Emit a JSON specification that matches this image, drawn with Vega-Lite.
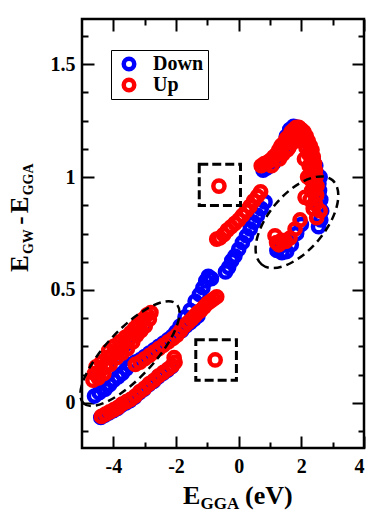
{
  "$schema": "https://vega.github.io/schema/vega-lite/v6.json",
  "width": 282,
  "height": 429,
  "autosize": {"type": "none"},
  "padding": {"left": 82, "top": 19, "right": 22, "bottom": 69},
  "background": "white",
  "config": {
    "view": {"stroke": "black", "strokeWidth": 2.5},
    "axis": {
      "labelFont": "Liberation Serif", "labelFontWeight": "bold", "labelFontSize": 20, "labelColor": "black",
      "tickColor": "black", "tickWidth": 2, "domain": false, "grid": false, "title": null
    }
  },
  "resolve": {"axis": {"x": "independent", "y": "independent"}},
  "layer": [
    {
      "data": {"values": [
        {"x": -4.4, "y": -0.065, "spin": "Down"}, {"x": -4.27, "y": -0.055, "spin": "Down"}, {"x": -4.14, "y": -0.045, "spin": "Down"}, {"x": -4.0, "y": -0.035, "spin": "Down"}, {"x": -3.87, "y": -0.025, "spin": "Down"}, {"x": -3.74, "y": -0.01, "spin": "Down"}, {"x": -3.6, "y": 0.0, "spin": "Down"}, {"x": -3.47, "y": 0.01, "spin": "Down"}, {"x": -3.32, "y": 0.025, "spin": "Down"}, {"x": -3.17, "y": 0.045, "spin": "Down"}, {"x": -3.02, "y": 0.06, "spin": "Down"}, {"x": -2.87, "y": 0.08, "spin": "Down"}, {"x": -2.72, "y": 0.095, "spin": "Down"}, {"x": -2.57, "y": 0.115, "spin": "Down"}, {"x": -2.42, "y": 0.13, "spin": "Down"}, {"x": -2.27, "y": 0.145, "spin": "Down"}, {"x": -2.14, "y": 0.16, "spin": "Down"},
        {"x": -4.6, "y": 0.03, "spin": "Down"}, {"x": -4.45, "y": 0.045, "spin": "Down"}, {"x": -4.26, "y": 0.06, "spin": "Down"}, {"x": -4.12, "y": 0.08, "spin": "Down"}, {"x": -3.99, "y": 0.1, "spin": "Down"}, {"x": -3.85, "y": 0.115, "spin": "Down"}, {"x": -3.72, "y": 0.13, "spin": "Down"}, {"x": -3.59, "y": 0.15, "spin": "Down"}, {"x": -3.46, "y": 0.17, "spin": "Down"}, {"x": -3.3, "y": 0.18, "spin": "Down"}, {"x": -3.15, "y": 0.19, "spin": "Down"}, {"x": -3.0, "y": 0.205, "spin": "Down"}, {"x": -2.85, "y": 0.22, "spin": "Down"}, {"x": -2.7, "y": 0.235, "spin": "Down"}, {"x": -2.55, "y": 0.25, "spin": "Down"}, {"x": -2.4, "y": 0.265, "spin": "Down"}, {"x": -2.25, "y": 0.28, "spin": "Down"}, {"x": -2.12, "y": 0.295, "spin": "Down"},
        {"x": -4.5, "y": 0.12, "spin": "Down"}, {"x": -4.2, "y": 0.17, "spin": "Down"}, {"x": -3.9, "y": 0.22, "spin": "Down"}, {"x": -3.6, "y": 0.26, "spin": "Down"}, {"x": -3.3, "y": 0.3, "spin": "Down"}, {"x": -3.0, "y": 0.34, "spin": "Down"},
        {"x": -1.82, "y": 0.32, "spin": "Down"}, {"x": -1.68, "y": 0.34, "spin": "Down"}, {"x": -1.55, "y": 0.355, "spin": "Down"}, {"x": -1.42, "y": 0.37, "spin": "Down"}, {"x": -1.3, "y": 0.385, "spin": "Down"},
        {"x": -2.0, "y": 0.315, "spin": "Down"}, {"x": -1.87, "y": 0.34, "spin": "Down"}, {"x": -1.71, "y": 0.38, "spin": "Down"}, {"x": -1.55, "y": 0.41, "spin": "Down"}, {"x": -1.39, "y": 0.45, "spin": "Down"}, {"x": -1.25, "y": 0.48, "spin": "Down"}, {"x": -1.14, "y": 0.51, "spin": "Down"}, {"x": -1.05, "y": 0.54, "spin": "Down"}, {"x": -0.97, "y": 0.56, "spin": "Down"}, {"x": -0.87, "y": 0.55, "spin": "Down"}, {"x": -0.42, "y": 0.58, "spin": "Down"}, {"x": -0.32, "y": 0.6, "spin": "Down"}, {"x": -0.22, "y": 0.63, "spin": "Down"}, {"x": -0.12, "y": 0.65, "spin": "Down"}, {"x": 0.0, "y": 0.68, "spin": "Down"}, {"x": 0.12, "y": 0.71, "spin": "Down"}, {"x": 0.25, "y": 0.74, "spin": "Down"}, {"x": 0.37, "y": 0.77, "spin": "Down"}, {"x": 0.48, "y": 0.8, "spin": "Down"}, {"x": 0.6, "y": 0.83, "spin": "Down"}, {"x": 0.72, "y": 0.86, "spin": "Down"}, {"x": 0.84, "y": 0.89, "spin": "Down"},
        {"x": 0.78, "y": 1.03, "spin": "Down"}, {"x": 0.9, "y": 1.04, "spin": "Down"}, {"x": 1.0, "y": 1.05, "spin": "Down"}, {"x": 1.1, "y": 1.06, "spin": "Down"}, {"x": 1.3, "y": 1.1, "spin": "Down"}, {"x": 1.42, "y": 1.13, "spin": "Down"}, {"x": 1.52, "y": 1.18, "spin": "Down"}, {"x": 1.63, "y": 1.21, "spin": "Down"}, {"x": 1.75, "y": 1.225, "spin": "Down"}, {"x": 1.87, "y": 1.22, "spin": "Down"}, {"x": 2.0, "y": 1.2, "spin": "Down"}, {"x": 2.15, "y": 1.16, "spin": "Down"}, {"x": 2.3, "y": 1.12, "spin": "Down"}, {"x": 2.38, "y": 1.08, "spin": "Down"}, {"x": 2.46, "y": 1.05, "spin": "Down"}, {"x": 2.52, "y": 1.01, "spin": "Down"}, {"x": 2.6, "y": 1.0, "spin": "Down"}, {"x": 2.56, "y": 0.97, "spin": "Down"}, {"x": 2.58, "y": 0.94, "spin": "Down"}, {"x": 2.62, "y": 0.9, "spin": "Down"}, {"x": 2.47, "y": 0.9, "spin": "Down"}, {"x": 2.56, "y": 0.87, "spin": "Down"}, {"x": 2.65, "y": 0.85, "spin": "Down"}, {"x": 2.62, "y": 0.81, "spin": "Down"}, {"x": 2.55, "y": 0.78, "spin": "Down"}, {"x": 2.0, "y": 0.79, "spin": "Down"}, {"x": 1.85, "y": 0.75, "spin": "Down"}, {"x": 1.68, "y": 0.7, "spin": "Down"}, {"x": 1.53, "y": 0.67, "spin": "Down"}, {"x": 1.38, "y": 0.665, "spin": "Down"}, {"x": 1.22, "y": 0.675, "spin": "Down"}, {"x": 1.3, "y": 0.69, "spin": "Down"},
        {"x": -4.38, "y": -0.06, "spin": "Up"}, {"x": -4.25, "y": -0.05, "spin": "Up"}, {"x": -4.12, "y": -0.04, "spin": "Up"}, {"x": -3.98, "y": -0.03, "spin": "Up"}, {"x": -3.85, "y": -0.02, "spin": "Up"}, {"x": -3.72, "y": -0.005, "spin": "Up"}, {"x": -3.58, "y": 0.005, "spin": "Up"}, {"x": -3.45, "y": 0.015, "spin": "Up"}, {"x": -3.3, "y": 0.03, "spin": "Up"}, {"x": -3.15, "y": 0.05, "spin": "Up"}, {"x": -3.0, "y": 0.065, "spin": "Up"}, {"x": -2.85, "y": 0.085, "spin": "Up"}, {"x": -2.7, "y": 0.1, "spin": "Up"}, {"x": -2.55, "y": 0.12, "spin": "Up"}, {"x": -2.4, "y": 0.135, "spin": "Up"}, {"x": -2.25, "y": 0.15, "spin": "Up"}, {"x": -2.12, "y": 0.165, "spin": "Up"}, {"x": -2.03, "y": 0.18, "spin": "Up"}, {"x": -2.06, "y": 0.2, "spin": "Up"},
        {"x": -3.3, "y": 0.17, "spin": "Up"}, {"x": -3.15, "y": 0.18, "spin": "Up"}, {"x": -3.0, "y": 0.195, "spin": "Up"}, {"x": -2.85, "y": 0.21, "spin": "Up"}, {"x": -2.7, "y": 0.225, "spin": "Up"}, {"x": -2.55, "y": 0.24, "spin": "Up"}, {"x": -2.4, "y": 0.255, "spin": "Up"}, {"x": -2.25, "y": 0.27, "spin": "Up"},
        {"x": -4.65, "y": 0.1, "spin": "Up"}, {"x": -4.6, "y": 0.13, "spin": "Up"}, {"x": -4.55, "y": 0.16, "spin": "Up"}, {"x": -4.48, "y": 0.11, "spin": "Up"}, {"x": -4.42, "y": 0.14, "spin": "Up"}, {"x": -4.38, "y": 0.18, "spin": "Up"}, {"x": -4.3, "y": 0.13, "spin": "Up"}, {"x": -4.25, "y": 0.16, "spin": "Up"}, {"x": -4.2, "y": 0.2, "spin": "Up"}, {"x": -4.15, "y": 0.23, "spin": "Up"}, {"x": -4.1, "y": 0.17, "spin": "Up"}, {"x": -4.05, "y": 0.21, "spin": "Up"}, {"x": -3.98, "y": 0.25, "spin": "Up"}, {"x": -3.9, "y": 0.2, "spin": "Up"}, {"x": -3.85, "y": 0.23, "spin": "Up"}, {"x": -3.8, "y": 0.27, "spin": "Up"}, {"x": -3.72, "y": 0.22, "spin": "Up"}, {"x": -3.68, "y": 0.26, "spin": "Up"}, {"x": -3.62, "y": 0.29, "spin": "Up"}, {"x": -3.55, "y": 0.24, "spin": "Up"}, {"x": -3.5, "y": 0.28, "spin": "Up"}, {"x": -3.45, "y": 0.31, "spin": "Up"}, {"x": -3.38, "y": 0.27, "spin": "Up"}, {"x": -3.32, "y": 0.33, "spin": "Up"}, {"x": -3.25, "y": 0.3, "spin": "Up"}, {"x": -3.2, "y": 0.35, "spin": "Up"}, {"x": -3.12, "y": 0.32, "spin": "Up"}, {"x": -3.05, "y": 0.37, "spin": "Up"}, {"x": -2.98, "y": 0.34, "spin": "Up"}, {"x": -2.92, "y": 0.39, "spin": "Up"}, {"x": -2.85, "y": 0.37, "spin": "Up"}, {"x": -2.8, "y": 0.4, "spin": "Up"},
        {"x": -2.1, "y": 0.285, "spin": "Up"}, {"x": -1.97, "y": 0.3, "spin": "Up"}, {"x": -1.85, "y": 0.32, "spin": "Up"}, {"x": -1.73, "y": 0.34, "spin": "Up"}, {"x": -1.62, "y": 0.355, "spin": "Up"}, {"x": -1.5, "y": 0.37, "spin": "Up"}, {"x": -1.4, "y": 0.385, "spin": "Up"}, {"x": -1.3, "y": 0.4, "spin": "Up"}, {"x": -1.2, "y": 0.41, "spin": "Up"}, {"x": -1.1, "y": 0.425, "spin": "Up"}, {"x": -1.0, "y": 0.44, "spin": "Up"}, {"x": -0.9, "y": 0.45, "spin": "Up"}, {"x": -0.8, "y": 0.46, "spin": "Up"}, {"x": -0.7, "y": 0.47, "spin": "Up"},
        {"x": -0.75, "y": 0.19, "spin": "Up"}, {"x": -0.63, "y": 0.96, "spin": "Up"},
        {"x": -0.7, "y": 0.725, "spin": "Up"}, {"x": -0.6, "y": 0.73, "spin": "Up"}, {"x": -0.48, "y": 0.745, "spin": "Up"}, {"x": -0.36, "y": 0.765, "spin": "Up"}, {"x": -0.24, "y": 0.78, "spin": "Up"}, {"x": -0.12, "y": 0.795, "spin": "Up"}, {"x": 0.0, "y": 0.81, "spin": "Up"}, {"x": 0.12, "y": 0.83, "spin": "Up"}, {"x": 0.24, "y": 0.85, "spin": "Up"}, {"x": 0.36, "y": 0.87, "spin": "Up"}, {"x": 0.48, "y": 0.895, "spin": "Up"}, {"x": 0.6, "y": 0.915, "spin": "Up"}, {"x": 0.7, "y": 0.935, "spin": "Up"},
        {"x": 0.72, "y": 1.05, "spin": "Up"}, {"x": 0.82, "y": 1.06, "spin": "Up"}, {"x": 0.92, "y": 1.065, "spin": "Up"}, {"x": 1.02, "y": 1.075, "spin": "Up"}, {"x": 1.12, "y": 1.09, "spin": "Up"}, {"x": 1.2, "y": 1.1, "spin": "Up"}, {"x": 1.28, "y": 1.12, "spin": "Up"}, {"x": 1.36, "y": 1.14, "spin": "Up"}, {"x": 1.44, "y": 1.15, "spin": "Up"}, {"x": 1.52, "y": 1.17, "spin": "Up"}, {"x": 1.6, "y": 1.18, "spin": "Up"}, {"x": 1.68, "y": 1.2, "spin": "Up"}, {"x": 1.76, "y": 1.21, "spin": "Up"}, {"x": 1.84, "y": 1.22, "spin": "Up"}, {"x": 1.92, "y": 1.22, "spin": "Up"}, {"x": 2.0, "y": 1.21, "spin": "Up"}, {"x": 2.08, "y": 1.2, "spin": "Up"}, {"x": 2.16, "y": 1.18, "spin": "Up"}, {"x": 2.22, "y": 1.16, "spin": "Up"}, {"x": 2.28, "y": 1.14, "spin": "Up"}, {"x": 2.34, "y": 1.12, "spin": "Up"}, {"x": 2.38, "y": 1.09, "spin": "Up"}, {"x": 2.42, "y": 1.06, "spin": "Up"}, {"x": 2.45, "y": 1.03, "spin": "Up"}, {"x": 2.47, "y": 1.0, "spin": "Up"}, {"x": 2.44, "y": 0.97, "spin": "Up"}, {"x": 2.42, "y": 0.94, "spin": "Up"}, {"x": 1.4, "y": 1.1, "spin": "Up"}, {"x": 1.55, "y": 1.12, "spin": "Up"}, {"x": 1.7, "y": 1.15, "spin": "Up"}, {"x": 1.85, "y": 1.17, "spin": "Up"}, {"x": 2.0, "y": 1.16, "spin": "Up"}, {"x": 2.15, "y": 1.13, "spin": "Up"}, {"x": 2.25, "y": 1.1, "spin": "Up"}, {"x": 2.3, "y": 1.05, "spin": "Up"}, {"x": 2.35, "y": 1.02, "spin": "Up"}, {"x": 1.95, "y": 1.19, "spin": "Up"}, {"x": 2.3, "y": 0.99, "spin": "Up"},
        {"x": 2.25, "y": 1.05, "spin": "Up"}, {"x": 2.38, "y": 0.97, "spin": "Up"}, {"x": 2.33, "y": 0.94, "spin": "Up"}, {"x": 2.5, "y": 0.96, "spin": "Up"}, {"x": 2.2, "y": 1.0, "spin": "Up"}, {"x": 1.6, "y": 1.13, "spin": "Up"}, {"x": 1.75, "y": 1.17, "spin": "Up"}, {"x": 1.3, "y": 1.08, "spin": "Up"}, {"x": 1.05, "y": 1.05, "spin": "Up"}, {"x": 2.1, "y": 1.08, "spin": "Up"}, {"x": 2.45, "y": 0.88, "spin": "Up"}, {"x": 2.28, "y": 0.9, "spin": "Up"},
        {"x": 2.12, "y": 0.91, "spin": "Up"}, {"x": 2.49, "y": 0.92, "spin": "Up"}, {"x": 2.38, "y": 0.86, "spin": "Up"}, {"x": 2.6, "y": 0.85, "spin": "Up"}, {"x": 2.49, "y": 0.82, "spin": "Up"}, {"x": 1.96, "y": 0.81, "spin": "Up"}, {"x": 1.8, "y": 0.77, "spin": "Up"}, {"x": 1.64, "y": 0.73, "spin": "Up"}, {"x": 1.5, "y": 0.715, "spin": "Up"}, {"x": 1.37, "y": 0.72, "spin": "Up"}, {"x": 1.16, "y": 0.74, "spin": "Up"}, {"x": 1.21, "y": 0.71, "spin": "Up"}, {"x": 1.28, "y": 0.7, "spin": "Up"}
      ]},
      "mark": {"type": "point", "shape": "circle", "filled": false, "size": 125, "strokeWidth": 4.5, "opacity": 1},
      "encoding": {
        "x": {"field": "x", "type": "quantitative", "scale": {"domain": [-5, 4], "nice": false, "zero": false},
          "axis": {"orient": "bottom", "values": [-4, -3, -2, -1, 0, 1, 2, 3, 4],
            "labelExpr": "datum.value % 2 == 0 ? (datum.value < 0 ? '-' + abs(datum.value) : '' + datum.value) : ''",
            "tickSize": {"condition": {"test": "datum.value % 2 == 0", "value": -12}, "value": -6},
            "labelPadding": 20}},
        "y": {"field": "y", "type": "quantitative", "scale": {"domain": [-0.2, 1.7], "nice": false, "zero": false},
          "axis": {"orient": "left", "values": [-0.125, 0, 0.125, 0.25, 0.375, 0.5, 0.625, 0.75, 0.875, 1, 1.125, 1.25, 1.375, 1.5, 1.625],
            "labelExpr": "datum.value * 2 == floor(datum.value * 2) ? '' + datum.value : ''",
            "tickSize": {"condition": {"test": "datum.value * 2 == floor(datum.value * 2)", "value": -12}, "value": -6},
            "labelPadding": 19}},
        "color": {"field": "spin", "type": "nominal", "scale": {"domain": ["Down", "Up"], "range": ["#0000ff", "#ff0000"]},
          "legend": {"orient": "none", "legendX": 29, "legendY": 31, "title": null,
            "labelFont": "Liberation Serif", "labelFontSize": 20, "labelFontWeight": "bold", "labelColor": "black",
            "symbolSize": 110, "symbolStrokeWidth": 4.5, "symbolType": "circle", "strokeColor": "black",
            "padding": 4, "rowPadding": 1, "clipHeight": 20, "labelOffset": 14, "symbolOffset": 4,
            "encode": {"legend": {"update": {"strokeWidth": {"value": 1.5}}}}}}
      }
    },
    {
      "data": {"values": [{}]},
      "mark": {"type": "point", "shape": "M -68 0 A 68 24 0 1 0 68 0 A 68 24 0 1 0 -68 0 Z", "size": 4, "angle": -47, "filled": false, "stroke": "black", "strokeWidth": 2.5, "strokeDash": [8, 5], "opacity": 1},
      "encoding": {
        "x": {"datum": -3.47, "type": "quantitative", "scale": {"domain": [-5, 4], "nice": false, "zero": false},
          "axis": {"orient": "top", "values": [-4, -3, -2, -1, 0, 1, 2, 3, 4], "labels": false,
            "tickSize": {"condition": {"test": "datum.value % 2 == 0", "value": -12}, "value": -6}}},
        "y": {"datum": 0.218, "type": "quantitative", "scale": {"domain": [-0.2, 1.7], "nice": false, "zero": false},
          "axis": {"orient": "right", "values": [-0.125, 0, 0.125, 0.25, 0.375, 0.5, 0.625, 0.75, 0.875, 1, 1.125, 1.25, 1.375, 1.5, 1.625], "labels": false,
            "tickSize": {"condition": {"test": "datum.value * 2 == floor(datum.value * 2)", "value": -12}, "value": -6}}}
      }
    },
    {
      "data": {"values": [{}]},
      "mark": {"type": "point", "shape": "M -55 0 A 55 28 0 1 0 55 0 A 55 28 0 1 0 -55 0 Z", "size": 4, "angle": -50, "filled": false, "stroke": "black", "strokeWidth": 2.5, "strokeDash": [8, 5], "opacity": 1},
      "encoding": {
        "x": {"datum": 1.86, "type": "quantitative", "scale": {"domain": [-5, 4], "nice": false, "zero": false}, "axis": null},
        "y": {"datum": 0.8, "type": "quantitative", "scale": {"domain": [-0.2, 1.7], "nice": false, "zero": false}, "axis": null}
      }
    },
    {
      "data": {"values": [{}]},
      "mark": {"type": "point", "shape": "square", "size": 1700, "filled": false, "stroke": "black", "strokeWidth": 3, "strokeDash": [9, 4], "opacity": 1},
      "encoding": {
        "x": {"datum": -0.6, "type": "quantitative", "scale": {"domain": [-5, 4], "nice": false, "zero": false}, "axis": null},
        "y": {"datum": 0.965, "type": "quantitative", "scale": {"domain": [-0.2, 1.7], "nice": false, "zero": false}, "axis": null}
      }
    },
    {
      "data": {"values": [{}]},
      "mark": {"type": "point", "shape": "square", "size": 1650, "filled": false, "stroke": "black", "strokeWidth": 3, "strokeDash": [9, 4], "opacity": 1},
      "encoding": {
        "x": {"datum": -0.72, "type": "quantitative", "scale": {"domain": [-5, 4], "nice": false, "zero": false}, "axis": null},
        "y": {"datum": 0.19, "type": "quantitative", "scale": {"domain": [-0.2, 1.7], "nice": false, "zero": false}, "axis": null}
      }
    },
    {
      "data": {"values": [{}]},
      "mark": {"type": "text", "text": "E", "font": "Liberation Serif", "fontSize": 26, "fontWeight": "bold", "align": "left", "baseline": "alphabetic", "color": "black"},
      "encoding": {
        "x": {"datum": -1.776, "type": "quantitative", "scale": {"domain": [-5, 4], "nice": false, "zero": false}, "axis": null},
        "y": {"datum": -0.449, "type": "quantitative", "scale": {"domain": [-0.2, 1.7], "nice": false, "zero": false}, "axis": null}
      }
    },
    {
      "data": {"values": [{}]},
      "mark": {"type": "text", "text": "GGA", "font": "Liberation Serif", "fontSize": 17, "fontWeight": "bold", "align": "left", "baseline": "alphabetic", "color": "black"},
      "encoding": {
        "x": {"datum": -1.22, "type": "quantitative", "scale": {"domain": [-5, 4], "nice": false, "zero": false}, "axis": null},
        "y": {"datum": -0.471, "type": "quantitative", "scale": {"domain": [-0.2, 1.7], "nice": false, "zero": false}, "axis": null}
      }
    },
    {
      "data": {"values": [{}]},
      "mark": {"type": "text", "text": "(eV)", "font": "Liberation Serif", "fontSize": 26, "fontWeight": "bold", "align": "left", "baseline": "alphabetic", "color": "black"},
      "encoding": {
        "x": {"datum": 0.203, "type": "quantitative", "scale": {"domain": [-5, 4], "nice": false, "zero": false}, "axis": null},
        "y": {"datum": -0.449, "type": "quantitative", "scale": {"domain": [-0.2, 1.7], "nice": false, "zero": false}, "axis": null}
      }
    },
    {
      "data": {"values": [{}]},
      "mark": {"type": "text", "text": "E", "font": "Liberation Serif", "fontSize": 25, "fontWeight": "bold", "align": "left", "baseline": "alphabetic", "angle": 270, "color": "black"},
      "encoding": {
        "x": {"datum": -6.724, "type": "quantitative", "scale": {"domain": [-5, 4], "nice": false, "zero": false}, "axis": null},
        "y": {"datum": 0.579, "type": "quantitative", "scale": {"domain": [-0.2, 1.7], "nice": false, "zero": false}, "axis": null}
      }
    },
    {
      "data": {"values": [{}]},
      "mark": {"type": "text", "text": "GW", "font": "Liberation Serif", "fontSize": 14, "fontWeight": "bold", "align": "left", "baseline": "alphabetic", "angle": 270, "color": "black"},
      "encoding": {
        "x": {"datum": -6.564, "type": "quantitative", "scale": {"domain": [-5, 4], "nice": false, "zero": false}, "axis": null},
        "y": {"datum": 0.659, "type": "quantitative", "scale": {"domain": [-0.2, 1.7], "nice": false, "zero": false}, "axis": null}
      }
    },
    {
      "data": {"values": [{}]},
      "mark": {"type": "text", "text": "-", "font": "Liberation Serif", "fontSize": 25, "fontWeight": "bold", "align": "center", "baseline": "alphabetic", "angle": 270, "color": "black"},
      "encoding": {
        "x": {"datum": -6.724, "type": "quantitative", "scale": {"domain": [-5, 4], "nice": false, "zero": false}, "axis": null},
        "y": {"datum": 0.807, "type": "quantitative", "scale": {"domain": [-0.2, 1.7], "nice": false, "zero": false}, "axis": null}
      }
    },
    {
      "data": {"values": [{}]},
      "mark": {"type": "text", "text": "E", "font": "Liberation Serif", "fontSize": 25, "fontWeight": "bold", "align": "left", "baseline": "alphabetic", "angle": 270, "color": "black"},
      "encoding": {
        "x": {"datum": -6.724, "type": "quantitative", "scale": {"domain": [-5, 4], "nice": false, "zero": false}, "axis": null},
        "y": {"datum": 0.84, "type": "quantitative", "scale": {"domain": [-0.2, 1.7], "nice": false, "zero": false}, "axis": null}
      }
    },
    {
      "data": {"values": [{}]},
      "mark": {"type": "text", "text": "GGA", "font": "Liberation Serif", "fontSize": 14, "fontWeight": "bold", "align": "left", "baseline": "alphabetic", "angle": 270, "color": "black"},
      "encoding": {
        "x": {"datum": -6.564, "type": "quantitative", "scale": {"domain": [-5, 4], "nice": false, "zero": false}, "axis": null},
        "y": {"datum": 0.919, "type": "quantitative", "scale": {"domain": [-0.2, 1.7], "nice": false, "zero": false}, "axis": null}
      }
    }
  ]
}
